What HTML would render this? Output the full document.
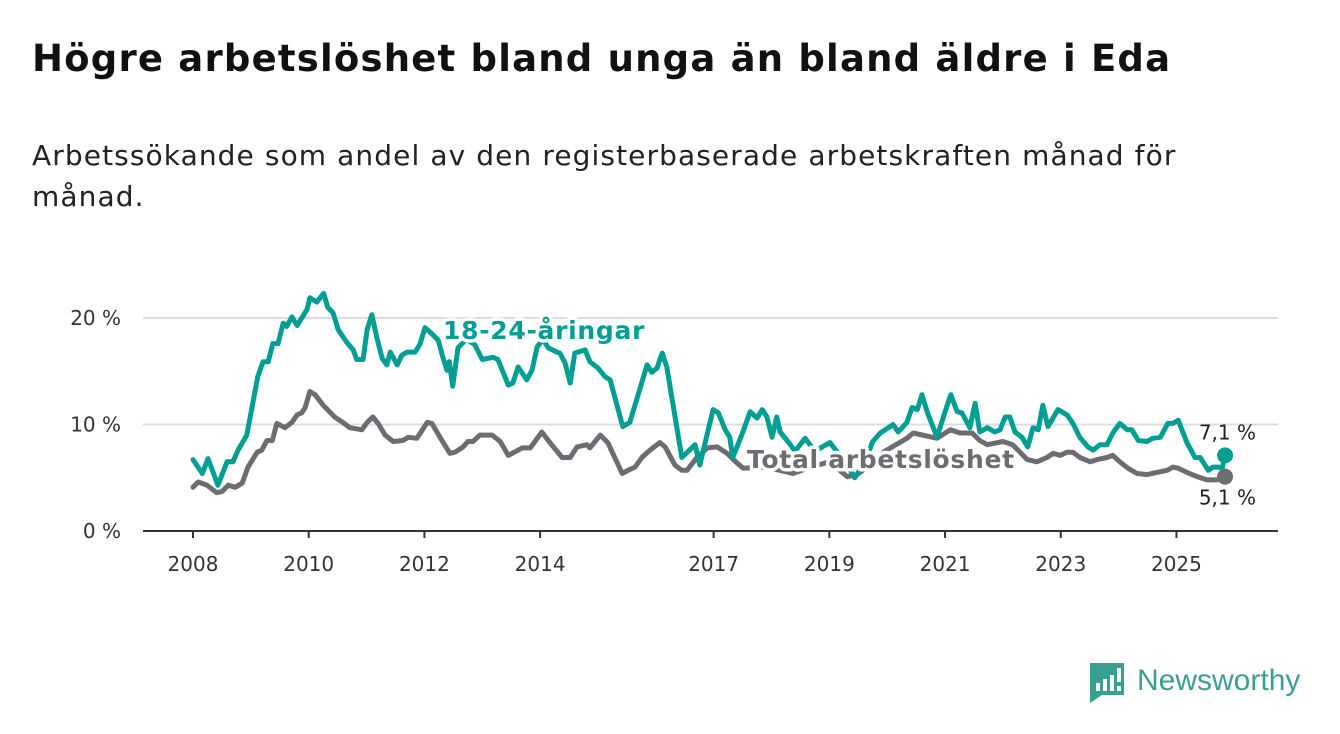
<!DOCTYPE html>
<html><head><meta charset="utf-8"><style>
body{margin:0;background:#fff;font-family:"DejaVu Sans","Liberation Sans",sans-serif;}
#wrap{position:relative;width:1340px;height:734px;overflow:hidden;}
h1{position:absolute;left:32px;top:37px;margin:0;font-size:37px;letter-spacing:1.2px;font-weight:bold;color:#111;white-space:nowrap;}
p.sub{position:absolute;left:32px;top:135px;margin:0;font-size:28px;letter-spacing:1.1px;line-height:41px;color:#222;width:1280px;}
svg{position:absolute;left:0;top:0;font-family:"DejaVu Sans","Liberation Sans",sans-serif;}
</style></head><body>
<div id="wrap">
<h1>Högre arbetslöshet bland unga än bland äldre i Eda</h1>
<p class="sub">Arbetssökande som andel av den registerbaserade arbetskraften månad för<br>månad.</p>
<svg id="chart" width="1340" height="734"></svg>
</div>
<script>
const youthYears=[2008.00,2008.16,2008.26,2008.43,2008.59,2008.69,2008.78,2008.93,2009.12,2009.21,2009.30,2009.38,2009.47,2009.56,2009.62,2009.71,2009.80,2009.97,2010.02,2010.14,2010.26,2010.33,2010.42,2010.51,2010.66,2010.77,2010.83,2010.94,2011.01,2011.09,2011.18,2011.27,2011.35,2011.41,2011.53,2011.61,2011.70,2011.84,2011.92,2012.01,2012.15,2012.24,2012.32,2012.39,2012.43,2012.49,2012.58,2012.72,2012.87,2013.00,2013.08,2013.19,2013.27,2013.45,2013.53,2013.62,2013.77,2013.86,2013.95,2014.05,2014.14,2014.29,2014.34,2014.43,2014.52,2014.60,2014.78,2014.86,2015.00,2015.12,2015.21,2015.43,2015.55,2015.85,2015.93,2016.02,2016.11,2016.19,2016.45,2016.68,2016.76,2016.99,2017.08,2017.20,2017.28,2017.33,2017.42,2017.52,2017.63,2017.75,2017.84,2017.92,2018.01,2018.09,2018.15,2018.27,2018.41,2018.58,2018.75,2019.01,2019.27,2019.44,2019.62,2019.75,2019.88,2020.05,2020.10,2020.19,2020.34,2020.43,2020.52,2020.60,2020.69,2020.86,2021.00,2021.10,2021.21,2021.29,2021.43,2021.52,2021.60,2021.73,2021.86,2021.95,2022.04,2022.12,2022.21,2022.33,2022.43,2022.52,2022.61,2022.69,2022.78,2022.95,2023.11,2023.21,2023.33,2023.47,2023.56,2023.68,2023.80,2023.90,2024.02,2024.15,2024.23,2024.34,2024.49,2024.59,2024.72,2024.85,2024.94,2025.03,2025.18,2025.32,2025.41,2025.55,2025.63,2025.72,2025.79,2025.84];
const youthValues=[6.7,5.4,6.8,4.3,6.5,6.5,7.6,9.0,14.5,15.9,15.9,17.6,17.6,19.5,19.2,20.1,19.3,20.8,21.9,21.5,22.3,21.0,20.5,18.9,17.7,17.0,16.1,16.1,18.9,20.3,18.1,16.2,15.6,16.8,15.6,16.5,16.8,16.8,17.5,19.1,18.4,17.9,16.3,15.1,15.9,13.6,17.2,18.0,17.5,16.1,16.2,16.3,16.1,13.7,13.9,15.4,14.2,15.1,17.3,18.0,17.2,16.8,16.7,15.8,13.9,16.7,17.0,15.9,15.3,14.5,14.2,9.8,10.2,15.6,14.9,15.3,16.7,15.4,6.9,8.1,6.2,11.4,11.1,9.5,8.8,6.9,8.1,9.5,11.2,10.6,11.4,10.7,8.8,10.7,9.3,8.5,7.5,8.7,7.5,8.3,6.5,5.0,6.5,8.4,9.2,9.8,10.0,9.3,10.2,11.6,11.4,12.8,11.2,8.8,11.2,12.8,11.2,11.1,9.7,12.0,9.3,9.7,9.3,9.5,10.7,10.7,9.3,8.8,7.9,9.7,9.5,11.8,9.8,11.4,10.9,10.1,8.8,7.9,7.6,8.1,8.1,9.2,10.1,9.5,9.5,8.5,8.4,8.7,8.8,10.1,10.1,10.4,8.3,6.9,6.9,5.7,6.0,6.0,5.9,7.1];
const totalYears=[2008.00,2008.09,2008.24,2008.41,2008.50,2008.61,2008.73,2008.85,2008.95,2009.11,2009.19,2009.28,2009.37,2009.45,2009.59,2009.71,2009.80,2009.88,2009.94,2010.02,2010.11,2010.25,2010.45,2010.59,2010.71,2010.92,2011.01,2011.11,2011.20,2011.32,2011.46,2011.63,2011.72,2011.87,2012.05,2012.13,2012.27,2012.44,2012.53,2012.67,2012.75,2012.84,2012.96,2013.17,2013.31,2013.45,2013.69,2013.83,2014.03,2014.17,2014.38,2014.52,2014.64,2014.81,2014.86,2015.04,2015.17,2015.42,2015.52,2015.64,2015.76,2015.90,2016.07,2016.16,2016.33,2016.45,2016.54,2016.71,2016.89,2017.06,2017.23,2017.40,2017.51,2017.80,2018.06,2018.37,2018.67,2019.01,2019.31,2019.48,2019.70,2019.96,2020.34,2020.45,2020.86,2021.09,2021.26,2021.47,2021.60,2021.73,2022.00,2022.17,2022.42,2022.59,2022.76,2022.87,2022.99,2023.11,2023.21,2023.33,2023.51,2023.63,2023.80,2023.90,2024.02,2024.16,2024.32,2024.49,2024.66,2024.84,2024.94,2025.03,2025.18,2025.36,2025.53,2025.70,2025.84];
const totalValues=[4.1,4.6,4.3,3.6,3.7,4.3,4.1,4.5,6.0,7.4,7.6,8.5,8.5,10.1,9.7,10.2,10.9,11.1,11.6,13.1,12.8,11.8,10.7,10.2,9.7,9.5,10.2,10.7,10.1,9.0,8.4,8.5,8.8,8.7,10.2,10.1,8.8,7.3,7.4,7.9,8.4,8.4,9.0,9.0,8.4,7.1,7.8,7.8,9.3,8.3,6.9,6.9,7.9,8.1,7.8,9.0,8.3,5.4,5.7,6.0,6.9,7.6,8.3,7.9,6.2,5.7,5.7,6.9,7.8,7.9,7.3,6.4,5.9,6.0,5.8,5.4,6.0,6.5,5.1,5.3,6.2,7.5,8.7,9.2,8.7,9.5,9.2,9.2,8.5,8.1,8.4,8.1,6.7,6.5,6.9,7.3,7.1,7.4,7.4,6.9,6.5,6.7,6.9,7.1,6.5,5.9,5.4,5.3,5.5,5.7,6.0,5.9,5.5,5.1,4.8,4.8,5.1];
const yTicks=[0,10,20];
const yTickLabels=["0 %","10 %","20 %"];
const xTicks=[2008,2010,2012,2014,2017,2019,2021,2023,2025];

const NS="http://www.w3.org/2000/svg";
const svg=document.getElementById('chart');
const xs=y=>193+(y-2008)*57.85;
const ys=v=>531-v*10.65;
function mk(tag,attrs,parent){const e=document.createElementNS(NS,tag);for(const k in attrs)e.setAttribute(k,attrs[k]);(parent||svg).appendChild(e);return e;}

yTicks.forEach((t,i)=>{
  if(t>0){const g=mk('line',{x1:143,x2:1278,y1:ys(t),y2:ys(t),stroke:'#dcdcdc','stroke-width':2});
  
  }
  const l=mk('text',{x:121,y:ys(t)+7,'text-anchor':'end','font-size':20,fill:'#333'});
  l.textContent=yTickLabels[i];
  
  
});
const ax=mk('line',{x1:143,x2:1278,y1:531,y2:531,stroke:'#333','stroke-width':2});


xTicks.forEach(t=>{
  const tk=mk('line',{x1:xs(t),x2:xs(t),y1:531,y2:538,stroke:'#333','stroke-width':2});
  
  
  const l=mk('text',{x:xs(t),y:571,'text-anchor':'middle','font-size':20,fill:'#333'});
  l.textContent=t;
  
  
});
function line(years,vals,color,name){
  const d=years.map((y,i)=>(i?'L':'M')+xs(y).toFixed(1)+','+ys(vals[i]).toFixed(1)).join(' ');
  const p=mk('path',{d:d,fill:'none',stroke:color,'stroke-width':5,'stroke-linejoin':'round','stroke-linecap':'round'});
  
  
}
line(totalYears,totalValues,'#6d6c72','total-line');
line(youthYears,youthValues,'#009e93','youth-line');
function label(x,y,txt,color,name){
  const t=mk('text',{x:x,y:y,'font-size':25,'letter-spacing':0.7,'font-weight':'bold',fill:color,stroke:'#fff','stroke-width':7,'paint-order':'stroke','stroke-linejoin':'round'});
  t.textContent=txt;
  
  
}
label(443,339,'18-24-åringar','#009e93','youth-series-label');
label(747,468,'Total arbetslöshet','#6d6c72','total-series-label');
const ty=youthYears[youthYears.length-1],tv=youthValues[youthValues.length-1];
const gy=totalYears[totalYears.length-1],gv=totalValues[totalValues.length-1];
const d1=mk('circle',{cx:xs(gy),cy:ys(gv),r:8,fill:'#6d6c72'});


const d2=mk('circle',{cx:xs(ty),cy:ys(tv),r:8,fill:'#009e93'});


const e1=mk('text',{x:1256,y:ys(tv)-16,'text-anchor':'end','font-size':20,fill:'#222'});
e1.textContent=tv.toFixed(1).replace('.',',')+' %';


const e2=mk('text',{x:1256,y:ys(gv)+28,'text-anchor':'end','font-size':20,fill:'#222'});
e2.textContent=gv.toFixed(1).replace('.',',')+' %';



const logo=mk('g',{});


mk('path',{d:'M1090,663 h34 v32 h-22 l-12,8 z',fill:'#3a9e93'},logo);
mk('rect',{x:1096,y:683,width:4,height:8,fill:'#fff'},logo);
mk('rect',{x:1103,y:679,width:4,height:12,fill:'#fff'},logo);
mk('rect',{x:1110,y:675,width:4,height:16,fill:'#fff'},logo);
mk('rect',{x:1117,y:668,width:4,height:14,fill:'#fff'},logo);
mk('rect',{x:1117,y:686,width:4,height:5,fill:'#fff'},logo);
const lt=mk('text',{x:1137,y:690,'font-size':30,fill:'#3a9e93','font-family':'Liberation Sans, sans-serif'},logo);
lt.textContent='Newsworthy';
</script>
</body></html>
